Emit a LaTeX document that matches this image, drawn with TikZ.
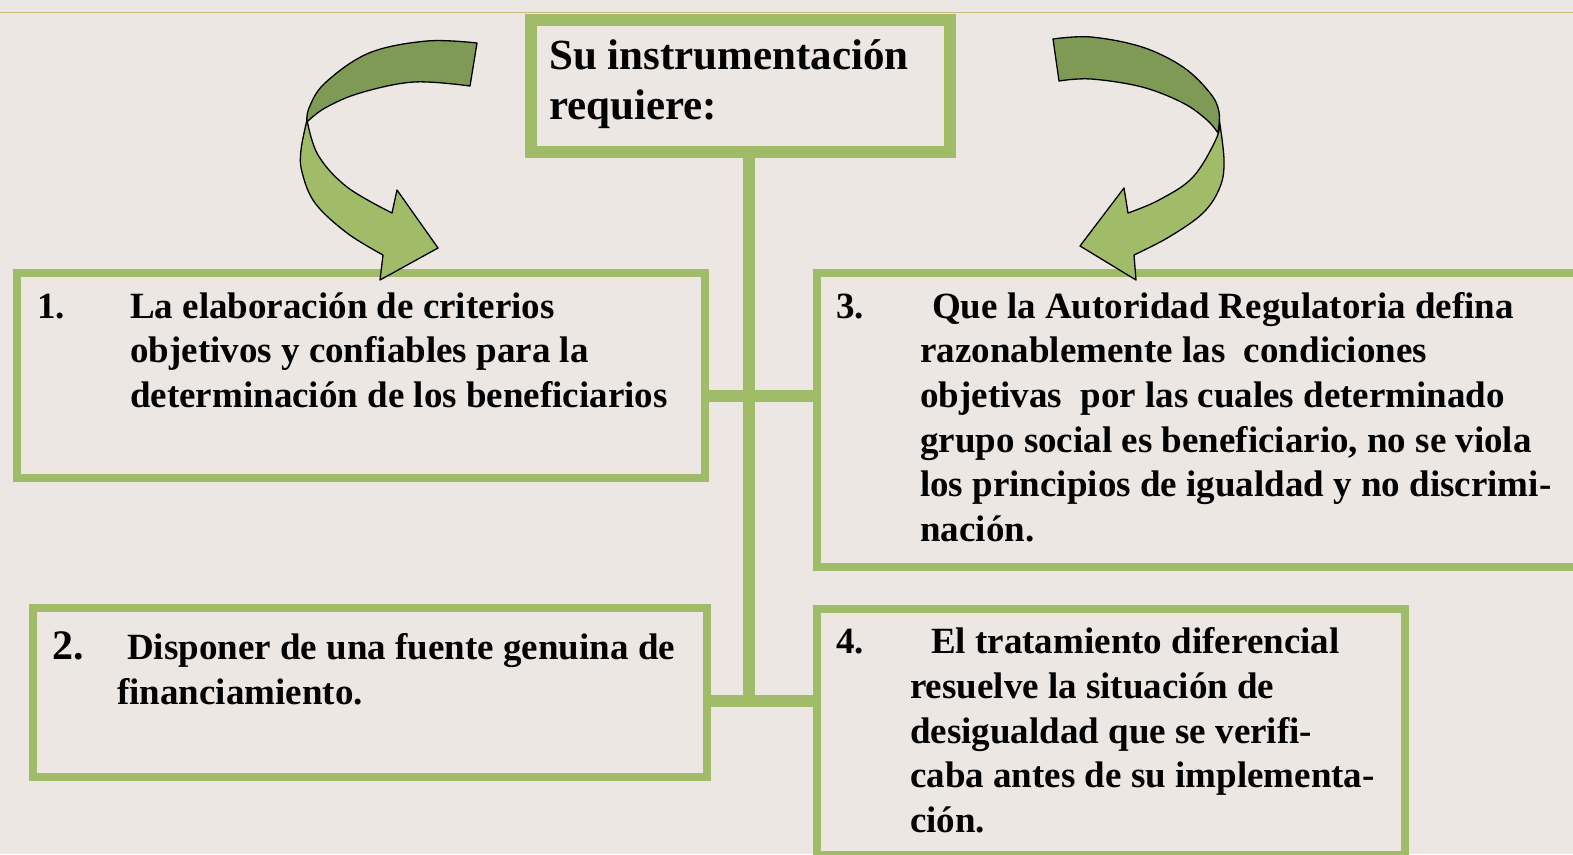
\documentclass[tikz,border=0pt]{standalone}
\usepackage{fontspec}
\setmainfont{Liberation Serif}
\definecolor{paper}{HTML}{ECE7E3}
\definecolor{leaf}{HTML}{A0BC69}
\definecolor{leafdark}{HTML}{7F9A55}
\definecolor{rule}{HTML}{C8BC80}

\begin{document}
\begin{tikzpicture}[x=1pt, y=-1pt,
      box/.style={draw=leaf, fill=paper, line width=8pt, inner sep=0pt, anchor=north west},
      item/.style={anchor=base west, align=left, inner sep=0pt,
        font=\bfseries\fontsize{37}{44.7}\selectfont},
      link/.style={draw=leaf, line width=12pt},
      ribbon/.style={draw=black, line width=1.3pt, line join=round}]
    \tikzstyle{head} = [anchor=base west, align=left, inner sep=0pt,
        font=\bfseries\fontsize{43}{50.5}\selectfont]
    \clip (0,0) rectangle (1573,854);
    \fill[paper] (0,0) rectangle (1573,854);
    \draw[rule, line width=1.5pt] (0,12.5) -- (1573,12.5);

    % junctions of the trunk
    \coordinate (upper) at (749,396);
    \coordinate (lower) at (749,701);

    \node (title) [box, line width=12pt, minimum width=419pt, minimum height=132pt] at (525,14) {};
    \draw[link] (title.south -| upper) -- ([yshift=-6pt]lower);

    \draw[link] (13,396) -- (813,396);
    \draw[link] (29,701) -- (813,701);

    \node (crit) [box, minimum width=688pt, minimum height=205pt] at (13,269) {};
    \node (fund) [box, minimum width=674pt, minimum height=169pt] at (29,604) {};
    \node (reg) [box, minimum width=800pt, minimum height=294pt] at (813,269) {};
    \node (treat) [box, minimum width=588pt, minimum height=246pt] at (813,605) {};

    % texts sit on the baseline of their last line
    \node (titletext) [head] at (549,119.5) {Su instrumentación\\requiere:};
    \node (crittext) [item] at (130,407.4)
      {\llap{\makebox[93pt][l]{1.}}La elaboración de criterios\\
       objetivos y confiables para la\\
       determinación de los beneficiarios};
    \node (fundtext) [item] at (117,704)
      {\llap{\makebox[65pt][l]{\fontsize{42}{44.7}\selectfont 2.}}\hspace{10pt}Disponer de una fuente genuina de\\
       financiamiento.};
    \node (regtext) [item] at (920,541.5)
      {\llap{\makebox[84pt][l]{3.}}\hspace{12pt}Que la Autoridad Regulatoria defina\\
       razonablemente las\ \ condiciones\\
       objetivas\ \ por las cuales determinado\\
       grupo social es beneficiario, no se viola\\
       los principios de igualdad y no discrimi-\\
       nación.};
    \node (treattext) [item] at (910,832.5)
      {\llap{\makebox[74pt][l]{4.}}\hspace{21pt}El tratamiento diferencial\\
       resuelve la situación de\\
       desigualdad que se verifi-\\
       caba antes de su implementa-\\
       ción.};

    % left curved arrow
    \draw[ribbon, fill=leaf] plot[smooth, tension=0.6] coordinates
        {(307,120) (301,150) (302,172) (315,203) (347,233) (383,255)}
      -- (380,280) -- (438,248) -- (397,190) -- (392,213)
      -- plot[smooth, tension=0.6] coordinates {(392,213) (347,187) (318,155) (307,120)} -- cycle;
    \draw[ribbon, fill=leafdark] plot[smooth, tension=0.6] coordinates
        {(477,43) (427,41) (369,53) (325,83) (309,108) (307,122)}
      -- plot[smooth, tension=0.6] coordinates {(307,122) (325,108) (360,93) (414,82) (470,86)} -- cycle;

    % right curved arrow
    \draw[ribbon, fill=leaf] plot[smooth, tension=0.6] coordinates
        {(1219,118) (1224,160) (1220,187) (1203,213) (1169,237) (1134,255)}
      -- (1136,280) -- (1080,246) -- (1124,188) -- (1128,213)
      -- plot[smooth, tension=0.6] coordinates {(1128,213) (1159,200) (1193,177) (1217,137) (1219,118)} -- cycle;
    \draw[ribbon, fill=leafdark] plot[smooth, tension=0.6] coordinates
        {(1053,39) (1091,37) (1142,47) (1183,67) (1210,93) (1219,112) (1218,133)}
      -- plot[smooth, tension=0.6] coordinates {(1218,133) (1207,120) (1183,103) (1142,87) (1091,79) (1059,81)} -- cycle;
\end{tikzpicture}
\end{document}
